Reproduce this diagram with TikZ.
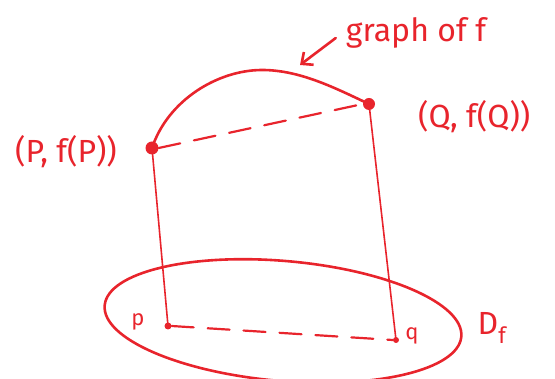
\documentclass[tikz,border=0pt]{standalone}
\usepackage{fontspec}
\setmainfont{Fira Sans}
\usetikzlibrary{arrows.meta,shapes.geometric}
\definecolor{pen}{RGB}{232,36,44}
\begin{document}
\begin{tikzpicture}[x=1pt,y=-1pt,
  ink/.style={draw=pen,line width=2.6pt,line cap=round,line join=round},
  thin ink/.style={draw=pen,line width=1.6pt,line cap=round},
  dashink/.style={draw=pen,line width=2.2pt,line cap=round,dash pattern=on 22pt off 14pt},
  dotmark/.style={circle,fill=pen,inner sep=0pt,minimum size=#1},
  lbl/.style={text=pen,inner sep=0pt,font=\fontsize{32}{34}\selectfont}]
\useasboundingbox (0,0) rectangle (555,379);
\clip (0,0) rectangle (555,379);
% points
\node[dotmark=13pt] (P) at (152,148) {};
\node[dotmark=12pt] (Q) at (369,104) {};
\node[dotmark=7pt] (p) at (168,326) {};
\node[dotmark=6pt] (q) at (396,340) {};
% graph of f
\draw[ink] (P.center) .. controls (168,100) and (218,70) .. (262,70)
  .. controls (300,70) and (335,88) .. (Q.center);
% dashed chords
\draw[dashink] (P.east) -- (Q.west);
\draw[dashink] (p.east) -- (q.west);
% verticals
\draw[thin ink] (P.center) -- (p.center);
\draw[thin ink] (Q.center) -- (q.center);
% domain ellipse
\node[ink,ellipse,draw,minimum width=358pt,minimum height=120pt,rotate=-5] (D) at (283,321) {};
% labels
\node[lbl] (lP) at (66,152) {(P, f(P))};
\node[lbl,anchor=west] (lQ) at (418,117) {(Q, f(Q))};
\node[lbl] (lG) at (416,33) {graph of f};
\node[lbl,font=\fontsize{22}{24}\selectfont] (lp) at (138,322) {p};
\node[lbl,font=\fontsize{22}{24}\selectfont] (lq) at (412,336) {q};
\node[lbl] (lD) at (492,328) {D\textsubscript{f}};
\coordinate (gA) at (300,65);
\draw[ink,-{Straight Barb[length=9pt,width=16pt]}] (lG.west) ++(-10,5) -- (gA);
\end{tikzpicture}
\end{document}
